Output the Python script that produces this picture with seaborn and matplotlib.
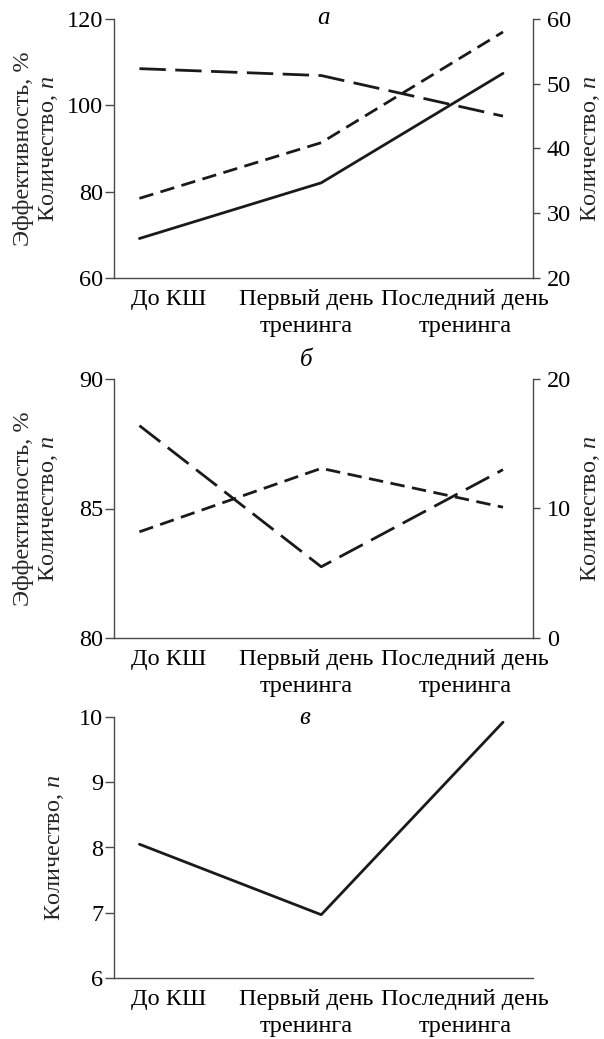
import matplotlib
matplotlib.use("Agg")
import matplotlib.pyplot as plt
import pandas as pd
import seaborn as sns

# x categories (stages of the study)
stages = ['До КШ', 'Первый день\nтренинга', 'Последний день\nтренинга']

# panel а
eff_a = [108.5, 106.9, 97.5]        # long dash, left axis (%)
cnt_a_dash = [32.3, 40.9, 58.0]     # short dash, right axis (n)
cnt_a_solid = [26.1, 34.7, 51.6]    # solid, right axis (n)

# panel б
eff_b = [88.2, 82.75, 86.5]         # long dash, left axis (%)
cnt_b = [8.2, 13.1, 10.1]           # short dash, right axis (n)

# panel в
cnt_c = [8.05, 6.97, 9.92]          # solid (n)

# where the category labels sit under the axis (hand placed in the original)
label_pos = [0.16, 0.92, 1.79]

sns.set_style('ticks')
plt.rcParams['font.family'] = ['Liberation Serif', 'DejaVu Serif']
plt.rcParams['mathtext.fontset'] = 'custom'
plt.rcParams['mathtext.rm'] = 'Liberation Serif'
plt.rcParams['mathtext.it'] = 'Liberation Serif:italic'

ink = '#1a1a1a'
spine_col = '#4a4a4a'
FS = 17.5
LONG = (0, (9.5, 3.4))
SHORT = (0, (5.2, 2.7))
pos = list(range(len(stages)))

W, H = 604, 1039
fig = plt.figure(figsize=(W / 100, H / 100), dpi=100)


def box(l, t, r, b):
    return [l / W, 1 - b / H, (r - l) / W, (b - t) / H]


def style_left(ax, ticks, label, label_x):
    ax.set_xlim(-0.14, 2.165)
    ax.set_ylim(ticks[0], ticks[-1])
    ax.set_yticks(ticks)
    ax.set_xticks(label_pos, stages)
    ax.tick_params(axis='x', length=0, pad=8, labelsize=FS, labelcolor='black')
    ax.tick_params(axis='y', length=6.5, width=1, pad=1.2, color=spine_col,
                   labelsize=FS, labelcolor='black')
    for lab in ax.get_xticklabels():
        lab.set_linespacing(1.35)
    for s in ['top', 'right']:
        ax.spines[s].set_visible(False)
    for s in ['left', 'bottom']:
        ax.spines[s].set_color(spine_col)
        ax.spines[s].set_linewidth(1.0)
    ax.set_xlabel('')
    ax.set_ylabel(label, fontsize=FS, linespacing=1.2)
    ax.yaxis.set_label_coords(label_x, 0.5)


def style_right(ax, ticks):
    ax.set_ylim(ticks[0], ticks[-1])
    ax.set_yticks(ticks)
    ax.tick_params(axis='y', length=5, width=1, pad=5, color=spine_col,
                   labelsize=FS, labelcolor='black')
    for s in ['top', 'left', 'bottom']:
        ax.spines[s].set_visible(False)
    ax.spines['right'].set_color(spine_col)
    ax.spines['right'].set_linewidth(1.0)
    ax.set_ylabel('Количество, $n$', fontsize=FS)
    ax.yaxis.set_label_coords(1.11, 0.5)


def panel_title(ax, letter, x, y):
    ax.text(x, y, letter, transform=ax.transAxes, ha='center', va='center',
            fontsize=18, style='italic', color='black')


# ---- panel а ----
df_a = pd.DataFrame({'pos': pos, 'eff': eff_a, 'dash': cnt_a_dash, 'solid': cnt_a_solid})
ax_a = fig.add_axes(box(114, 19, 533, 278))
sns.lineplot(data=df_a, x='pos', y='eff', ax=ax_a, color=ink, lw=2, linestyle=LONG)
ax_a2 = ax_a.twinx()
sns.lineplot(data=df_a, x='pos', y='dash', ax=ax_a2, color=ink, lw=2, linestyle=SHORT)
sns.lineplot(data=df_a, x='pos', y='solid', ax=ax_a2, color=ink, lw=2)
style_left(ax_a, [60, 80, 100, 120], 'Эффективность, %\nКоличество, $n$', -0.128)
style_right(ax_a2, [20, 30, 40, 50, 60])
ax_a2.set_xlim(-0.14, 2.165)
panel_title(ax_a, 'а', 0.5, 1.002)

# ---- panel б ----
df_b = pd.DataFrame({'pos': pos, 'eff': eff_b, 'cnt': cnt_b})
ax_b = fig.add_axes(box(114, 379, 533, 638))
sns.lineplot(data=df_b, x='pos', y='eff', ax=ax_b, color=ink, lw=2, linestyle=LONG)
ax_b2 = ax_b.twinx()
sns.lineplot(data=df_b, x='pos', y='cnt', ax=ax_b2, color=ink, lw=2, linestyle=SHORT)
style_left(ax_b, [80, 85, 90], 'Эффективность, %\nКоличество, $n$', -0.128)
style_right(ax_b2, [0, 10, 20])
ax_b2.set_xlim(-0.14, 2.165)
panel_title(ax_b, 'б', 0.458, 1.075)

# ---- panel в ----
df_c = pd.DataFrame({'pos': pos, 'cnt': cnt_c})
ax_c = fig.add_axes(box(114, 717, 533, 978))
sns.lineplot(data=df_c, x='pos', y='cnt', ax=ax_c, color=ink, lw=2)
style_left(ax_c, [6, 7, 8, 9, 10], 'Количество, $n$', -0.115)
panel_title(ax_c, 'в', 0.456, 0.998)

fig.savefig('out.png', dpi=100)
